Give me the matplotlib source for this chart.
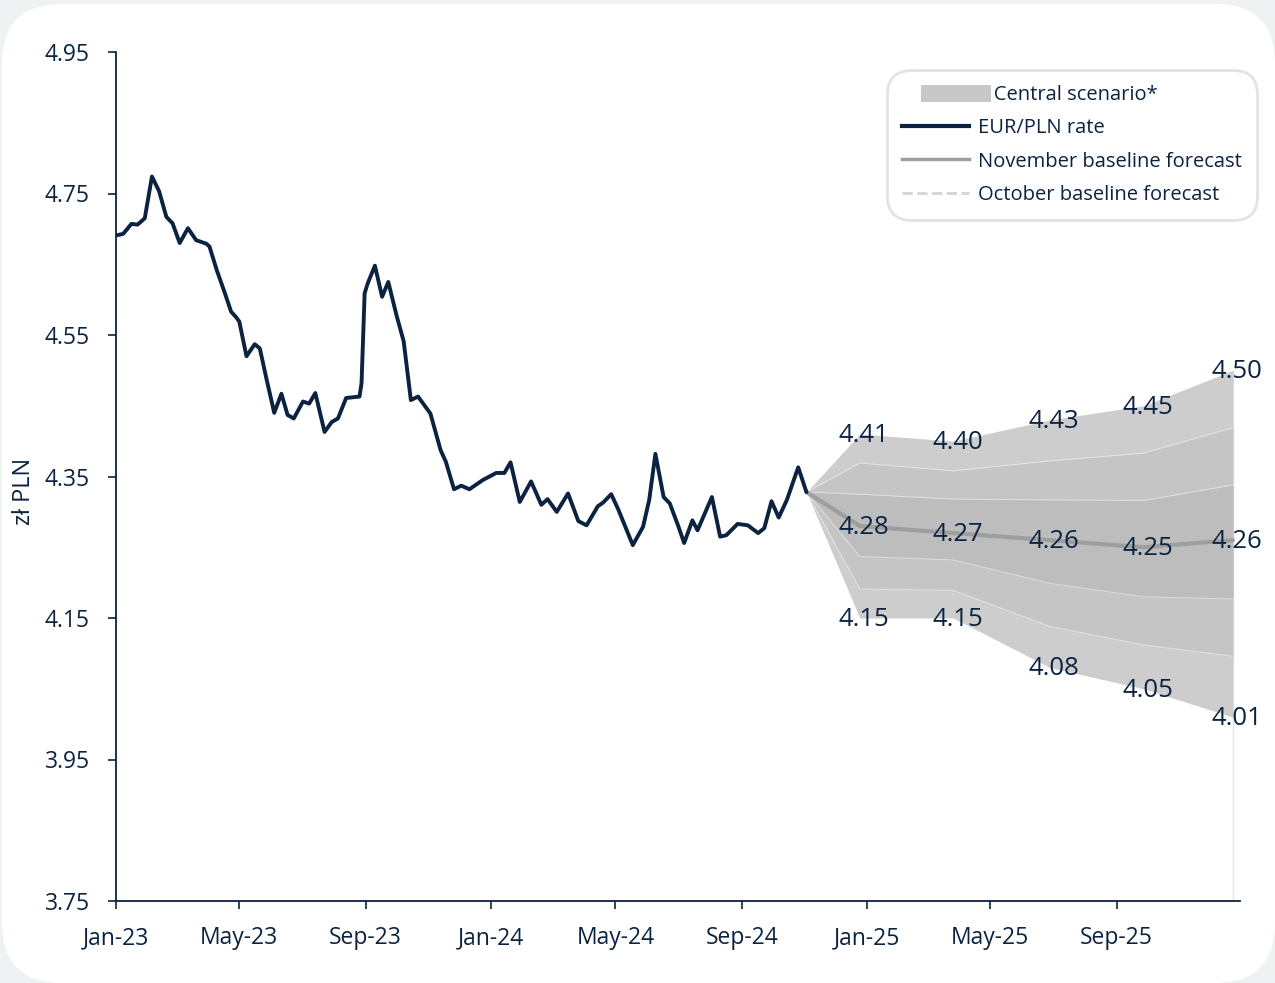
import matplotlib
matplotlib.use('Agg')
import matplotlib.pyplot as plt
import matplotlib.dates as mdates
from matplotlib.patches import FancyBboxPatch, Patch, Rectangle
from matplotlib.lines import Line2D
from matplotlib.legend_handler import HandlerPatch
import pandas as pd

plt.rcParams['font.family'] = ['Open Sans', 'DejaVu Sans']

# ---------------- data ----------------
hist_dates = ['2023-01-02', '2023-01-08', '2023-01-16', '2023-01-22', '2023-01-29', '2023-02-05',
              '2023-02-12', '2023-02-19', '2023-02-25', '2023-03-04', '2023-03-12', '2023-03-20',
              '2023-03-30', '2023-04-02', '2023-04-09', '2023-04-17', '2023-04-23', '2023-04-28',
              '2023-05-01', '2023-05-08', '2023-05-16', '2023-05-21', '2023-05-27', '2023-06-04',
              '2023-06-11', '2023-06-17', '2023-06-23', '2023-07-02', '2023-07-08', '2023-07-14',
              '2023-07-23', '2023-07-30', '2023-08-05', '2023-08-13', '2023-08-26', '2023-08-28',
              '2023-08-31', '2023-09-03', '2023-09-10', '2023-09-17', '2023-09-23', '2023-10-01',
              '2023-10-08', '2023-10-15', '2023-10-22', '2023-11-03', '2023-11-13', '2023-11-18',
              '2023-11-26', '2023-12-03', '2023-12-11', '2023-12-24', '2024-01-06', '2024-01-14',
              '2024-01-20', '2024-01-29', '2024-02-09', '2024-02-19', '2024-02-25', '2024-03-05',
              '2024-03-16', '2024-03-26', '2024-04-03', '2024-04-14', '2024-04-19', '2024-04-27',
              '2024-05-04', '2024-05-18', '2024-05-28', '2024-06-03', '2024-06-09', '2024-06-17',
              '2024-06-23', '2024-07-01', '2024-07-07', '2024-07-15', '2024-07-20', '2024-08-03',
              '2024-08-11', '2024-08-17', '2024-08-28', '2024-09-07', '2024-09-17', '2024-09-23',
              '2024-09-30', '2024-10-07', '2024-10-15', '2024-10-26', '2024-11-03']
hist_values = [4.691, 4.693, 4.707, 4.706, 4.715, 4.774,
               4.753, 4.717, 4.708, 4.680, 4.701, 4.684,
               4.679, 4.675, 4.642, 4.609, 4.583, 4.575,
               4.569, 4.520, 4.537, 4.531, 4.491, 4.440,
               4.467, 4.437, 4.432, 4.456, 4.453, 4.468,
               4.413, 4.427, 4.432, 4.461, 4.463, 4.482,
               4.609, 4.623, 4.648, 4.604, 4.625, 4.578,
               4.541, 4.458, 4.463, 4.439, 4.387, 4.371,
               4.332, 4.337, 4.332, 4.345, 4.355, 4.355,
               4.370, 4.314, 4.343, 4.310, 4.318, 4.300,
               4.326, 4.287, 4.281, 4.308, 4.313, 4.325,
               4.303, 4.253, 4.279, 4.317, 4.382, 4.321,
               4.312, 4.281, 4.256, 4.288, 4.274, 4.321,
               4.265, 4.267, 4.283, 4.281, 4.270, 4.277,
               4.315, 4.292, 4.317, 4.363, 4.328]

fc_dates = ['2024-11-03', '2024-12-25', '2025-03-26', '2025-06-28', '2025-09-27', '2025-12-23']
upper_90 = [4.328, 4.41, 4.40, 4.43, 4.45, 4.50]
upper_60 = [4.328, 4.369, 4.358, 4.372, 4.383, 4.419]
upper_30 = [4.328, 4.325, 4.318, 4.317, 4.316, 4.338]
central = [4.328, 4.28, 4.27, 4.26, 4.25, 4.26]
lower_30 = [4.328, 4.237, 4.232, 4.199, 4.180, 4.177]
lower_60 = [4.328, 4.191, 4.189, 4.138, 4.112, 4.096]
lower_90 = [4.328, 4.15, 4.15, 4.08, 4.05, 4.01]

y_ticks = [3.75, 3.95, 4.15, 4.35, 4.55, 4.75, 4.95]

# ---------------- style ----------------
NAVY = '#0b2340'
BG = '#eef2f3'

fig = plt.figure(figsize=(12.75, 9.83), dpi=100)
fig.patch.set_facecolor(BG)
card = FancyBboxPatch((0.02, 0.0), 12.73, 9.79,
                      boxstyle='round,pad=0,rounding_size=0.6',
                      transform=fig.dpi_scale_trans, facecolor='white',
                      edgecolor='none', zorder=-10)
fig.patches.append(card)

ax = fig.add_axes([116 / 1275, 82 / 983, (1240 - 116) / 1275, (901 - 52) / 983])
ax.set_facecolor('none')
ax.set_zorder(5)

hd = pd.to_datetime(hist_dates)
fd = pd.to_datetime(fc_dates)

# fan
ax.fill_between(fd, lower_90, upper_90, color='#cdcdcd', lw=0, zorder=1)
ax.fill_between(fd, lower_60, upper_60, color='#c5c5c5', lw=0, zorder=2)
ax.fill_between(fd, lower_30, upper_30, color='#bdbdbd', lw=0, zorder=3)
for edge in (upper_60, upper_30, lower_30, lower_60):
    ax.plot(fd, edge, color='white', lw=0.7, alpha=0.5, zorder=4)
ax.vlines(fd[-1], 3.75, upper_90[-1], color='#e4e4e4', lw=1, zorder=0.5)

ax.plot(fd, central, color='#9e9e9e', lw=3, zorder=5, solid_capstyle='round',
        solid_joinstyle='round')

# history
ax.plot(hd, hist_values, color=NAVY, lw=2.8, zorder=6,
        solid_joinstyle='round', solid_capstyle='round')

# labels
for i in range(1, len(fd)):
    for arr in (upper_90, central, lower_90):
        ax.annotate(f'{arr[i]:.2f}', (fd[i], arr[i]), xytext=(3, -1),
                    textcoords='offset points', ha='center', va='center',
                    fontsize=18.5, color=NAVY, zorder=7)

# axes
ax.set_ylim(3.75, 4.95)
ax.set_xlim(pd.Timestamp('2023-01-01'), pd.Timestamp('2025-12-30'))
ax.set_yticks(y_ticks)
ax.set_yticklabels([f'{v:.2f}' for v in y_ticks])
ax.xaxis.set_major_locator(mdates.MonthLocator(bymonth=[1, 5, 9]))
ax.xaxis.set_major_formatter(mdates.DateFormatter('%b-%y'))

for s in ('top', 'right'):
    ax.spines[s].set_visible(False)
for s in ('left', 'bottom'):
    ax.spines[s].set_color(NAVY)
    ax.spines[s].set_linewidth(1.3)
ax.tick_params(axis='both', colors=NAVY, labelcolor=NAVY, labelsize=16.5,
               length=6, width=1.2, direction='out')
ax.tick_params(axis='x', pad=12)
ax.tick_params(axis='y', pad=13)
ax.set_ylabel('zł PLN', fontsize=17, color=NAVY)
ax.yaxis.set_label_coords(-0.071, 0.482)


# legend
class ShiftedPatch(HandlerPatch):
    def __init__(self):
        super().__init__(patch_func=self._make)

    @staticmethod
    def _make(legend, orig_handle, xdescent, ydescent, width, height, fontsize):
        return Rectangle((-xdescent + 13, -ydescent - 0.5), width + 3, height + 1)


handles = [Patch(facecolor='#c8c8c8', edgecolor='none'),
           Line2D([], [], color=NAVY, lw=3),
           Line2D([], [], color='#a0a0a0', lw=2.5),
           Line2D([], [], color='#d4d4d4', lw=2, ls='--')]
labels = ['   Central scenario*', 'EUR/PLN rate', 'November baseline forecast',
          'October baseline forecast']
leg = fig.legend(handles, labels, loc='upper right',
                 bbox_to_anchor=(1257 / 1275, 1 - 70 / 983),
                 bbox_transform=fig.transFigure, borderaxespad=0,
                 fontsize=14.5, labelcolor=NAVY, frameon=True, fancybox=True,
                 handlelength=3.3, handleheight=0.8, handletextpad=0.45,
                 labelspacing=0.66, borderpad=0.75,
                 handler_map={Patch: ShiftedPatch()})
leg.set_zorder(10)
frame = leg.get_frame()
frame.set_edgecolor('#e3e3e3')
frame.set_linewidth(2)
frame.set_facecolor('white')
frame.set_alpha(1)
frame.set_boxstyle('round,pad=0,rounding_size=1.2')

fig.savefig('out.png', dpi=100, facecolor=fig.get_facecolor())
